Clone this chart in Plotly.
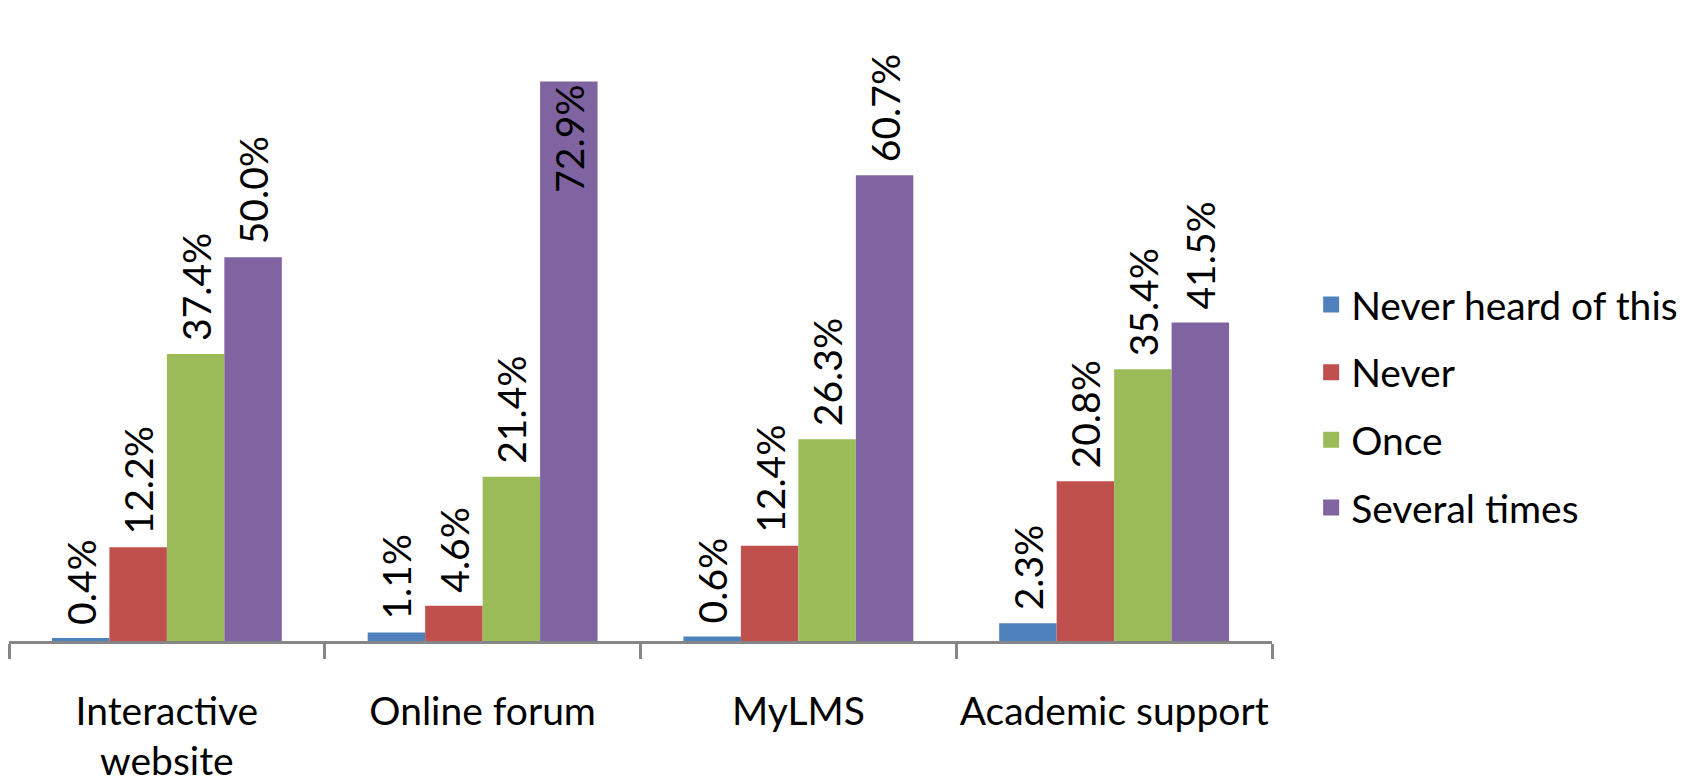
import plotly.graph_objects as go

categories = ["Interactive<br>website", "Online forum", "MyLMS", "Academic support"]
series_names = ["Never heard of this", "Never", "Once", "Several times"]
never_heard = [0.4, 1.1, 0.6, 2.3]
never = [12.2, 4.6, 12.4, 20.8]
once = [37.4, 21.4, 26.3, 35.4]
several = [50.0, 72.9, 60.7, 41.5]
colors = ["#4F81BD", "#C0504D", "#9BBB59", "#8064A2"]

FONT = "Lato"
FS = 39
values = [never_heard, never, once, several]

fig = go.Figure()
for name, vals, col in zip(series_names, values, colors):
    pos = ["inside" if v > 70 else "outside" for v in vals]
    fig.add_trace(go.Bar(
        x=categories, y=vals, name=name,
        marker=dict(color=col, line=dict(width=0)),
        text=[f"\u00a0{v:.1f}%" for v in vals],
        textposition=pos, insidetextanchor="end",
        textangle=-90, constraintext="none", cliponaxis=False,
        textfont=dict(family=FONT, size=FS, color="black"),
        insidetextfont=dict(family=FONT, size=FS, color="black"),
        outsidetextfont=dict(family=FONT, size=FS, color="black"),
        showlegend=False, legendgroup=name,
    ))
# legend entries (square swatches)
for name, col in zip(series_names, colors):
    fig.add_trace(go.Scatter(
        x=[None], y=[None], mode="markers", name=name, legendgroup=name,
        marker=dict(symbol="square", size=16, color=col),
        showlegend=True,
    ))

fig.update_layout(
    width=1698, height=780,
    margin=dict(l=1, r=434, t=19, b=147, autoexpand=False),
    paper_bgcolor="white", plot_bgcolor="white",
    barmode="group", bargap=0.272, bargroupgap=0,
    font=dict(family=FONT, size=FS, color="black"),
    legend=dict(x=1.031, y=0.60, xanchor="left", yanchor="top",
                font=dict(family=FONT, size=FS, color="black"),
                tracegroupgap=14, traceorder="grouped",
                bgcolor="rgba(0,0,0,0)", borderwidth=0),
)
fig.update_xaxes(
    showline=True, linecolor="#868686", linewidth=2.5,
    ticks="outside", tickson="boundaries", ticklen=15, tickwidth=2.5, tickcolor="#868686",
    ticklabelstandoff=34, showgrid=False, zeroline=False, tickangle=0, automargin=False,
    tickfont=dict(family=FONT, size=FS, color="black"),
)
fig.update_yaxes(range=[0, 80], visible=False, showgrid=False, zeroline=False, automargin=False)

fig.write_html("out.html")
